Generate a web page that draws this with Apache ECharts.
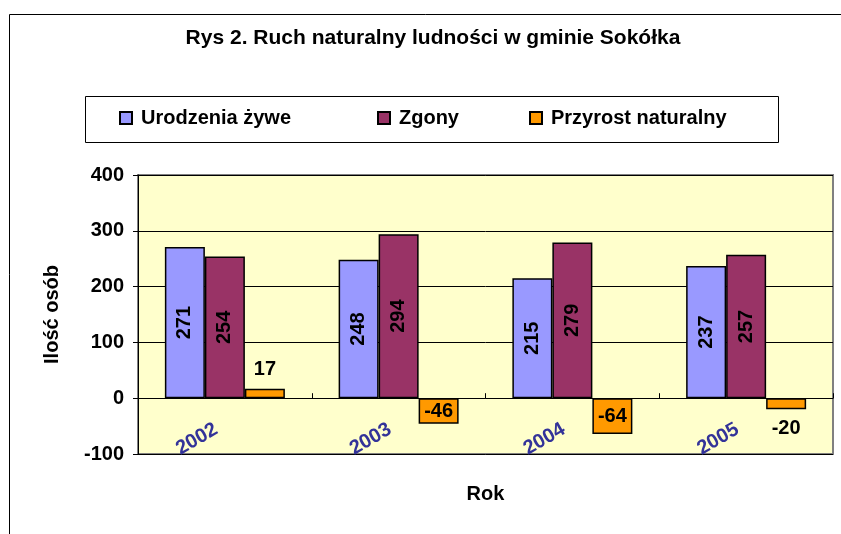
<!DOCTYPE html>
<html>
<head>
<meta charset="utf-8">
<title>Rys 2</title>
<script src="https://cdn.jsdelivr.net/npm/echarts@6.0.0/dist/echarts.min.js"></script>
<style>
  html, body { margin: 0; padding: 0; background: #fff; }
  #chart { width: 841px; height: 534px; }
</style>
</head>
<body>
<div id="chart"></div>
<script>
// dane z rysunku
const years = ['2002', '2003', '2004', '2005'];
const urodzenia = [271, 248, 215, 237];
const zgony = [254, 294, 279, 257];
const przyrost = [17, -46, -64, -20];
const seriesNames = ['Urodzenia żywe', 'Zgony', 'Przyrost naturalny'];

const FONT = 'Liberation Sans, Arial, sans-serif';
const myChart = echarts.init(document.getElementById('chart'));

const insideLabel = {
  show: true,
  position: 'inside',
  rotate: 90,
  color: '#000',
  fontSize: 20,
  fontWeight: 'bold',
  fontFamily: FONT
};

// legenda - trzy osobne, żeby trafić w pozycje
const legendAt = (name, left) => ({
  data: [name],
  left: left,
  top: 108,
  itemWidth: 12,
  itemHeight: 12,
  icon: 'rect',
  padding: 0,
  textStyle: {
    color: '#000',
    fontSize: 20,
    fontWeight: 'bold',
    fontFamily: FONT,
    padding: [0, 0, 0, 4]
  }
});

const option = {
  animation: false,
  title: {
    text: 'Rys 2. Ruch naturalny ludności w gminie Sokółka',
    left: 433,
    textAlign: 'center',
    top: 28,
    padding: 0,
    textStyle: {
      color: '#000',
      fontSize: 21,
      fontWeight: 'bold',
      fontFamily: FONT
    }
  },
  legend: [
    legendAt(seriesNames[0], 119),
    legendAt(seriesNames[1], 377),
    legendAt(seriesNames[2], 529)
  ],
  graphic: [
    {
      type: 'rect',
      silent: true,
      shape: { x: 9.5, y: 14.5, width: 900, height: 600 },
      style: { fill: 'none', stroke: '#000', lineWidth: 1 }
    },
    {
      type: 'rect',
      silent: true,
      shape: { x: 85.5, y: 96.5, width: 693, height: 46 },
      style: { fill: 'none', stroke: '#000', lineWidth: 1 }
    }
  ],
  grid: {
    left: 138,
    right: 8,
    top: 175,
    bottom: 80,
    outerBoundsMode: 'none',
    containLabel: false,
    show: true,
    backgroundColor: '#FFFFCC',
    borderColor: '#808080',
    borderWidth: 2
  },
  xAxis: {
    type: 'category',
    data: years,
    name: 'Rok',
    nameLocation: 'middle',
    nameGap: 30,
    nameTextStyle: {
      color: '#000',
      fontSize: 20,
      fontWeight: 'bold',
      fontFamily: FONT
    },
    axisLine: { show: true, onZero: true, lineStyle: { color: '#000', width: 1 } },
    axisTick: { show: true, inside: true, length: 5, lineStyle: { color: '#000' } },
    axisLabel: {
      // etykiety lat leżą w obszarze wykresu pod zerem
      rotate: 30,
      margin: -31,
      padding: [0, 10, 0, 0],
      color: '#333399',
      fontSize: 20,
      fontWeight: 'bold',
      fontFamily: FONT
    },
    splitLine: { show: false }
  },
  yAxis: {
    type: 'value',
    min: -100,
    max: 400,
    interval: 100,
    name: 'Ilość osób',
    nameLocation: 'middle',
    nameGap: 76,
    nameTextStyle: {
      color: '#000',
      fontSize: 20,
      fontWeight: 'bold',
      fontFamily: FONT
    },
    axisLine: { show: true, lineStyle: { color: '#000', width: 1 } },
    axisTick: { show: true, length: 5, lineStyle: { color: '#000' } },
    axisLabel: {
      margin: 14,
      color: '#000',
      fontSize: 20,
      fontWeight: 'bold',
      fontFamily: FONT
    },
    splitLine: { show: true, lineStyle: { color: '#000', width: 1 } }
  },
  series: [
    {
      name: seriesNames[0],
      type: 'bar',
      barWidth: 40,
      barGap: '0%',
      data: urodzenia,
      itemStyle: { color: '#9999FF', borderColor: '#000', borderWidth: 1.5 },
      label: insideLabel
    },
    {
      name: seriesNames[1],
      type: 'bar',
      barWidth: 40,
      barGap: '0%',
      data: zgony,
      itemStyle: { color: '#993366', borderColor: '#000', borderWidth: 1.5 },
      label: insideLabel
    },
    {
      name: seriesNames[2],
      type: 'bar',
      barWidth: 40,
      barGap: '0%',
      itemStyle: { color: '#FF9900', borderColor: '#000', borderWidth: 1.5 },
      data: przyrost.map((v) => {
        // mały słupek -> etykieta na zewnątrz
        let pos = 'inside';
        if (Math.abs(v) < 30) pos = v > 0 ? 'top' : 'bottom';
        return {
          value: v,
          label: {
            show: true,
            position: pos,
            distance: 9,
            color: '#000',
            fontSize: 20,
            fontWeight: 'bold',
            fontFamily: FONT
          }
        };
      })
    }
  ]
};

option && myChart.setOption(option);
window.addEventListener('resize', myChart.resize);
</script>
</body>
</html>
